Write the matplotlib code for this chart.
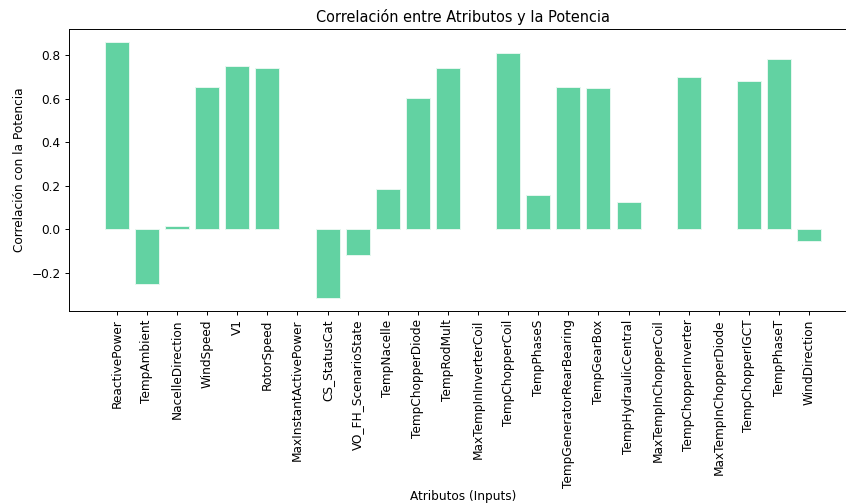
import matplotlib.pyplot as plt
import numpy as np

# atributos y su correlacion con la potencia (nan = columna constante, sin barra)
atributos = ['ReactivePower', 'TempAmbient', 'NacelleDirection', 'WindSpeed', 'V1',
             'RotorSpeed', 'MaxInstantActivePower', 'CS_StatusCat', 'VO_FH_ScenarioState',
             'TempNacelle', 'TempChopperDiode', 'TempRodMult', 'MaxTempInInverterCoil',
             'TempChopperCoil', 'TempPhaseS', 'TempGeneratorRearBearing', 'TempGearBox',
             'TempHydraulicCentral', 'MaxTempInChopperCoil', 'TempChopperInverter',
             'MaxTempInChopperDiode', 'TempChopperIGCT', 'TempPhaseT', 'WindDirection']
correlaciones = [0.86, -0.25, 0.017, 0.652, 0.748,
                 0.740, np.nan, -0.315, -0.115,
                 0.187, 0.603, 0.740, np.nan,
                 0.807, 0.157, 0.652, 0.648,
                 0.124, np.nan, 0.700,
                 np.nan, 0.680, 0.780, -0.054]

dpi = 87
fig = plt.figure(figsize=(846/dpi, 503/dpi), dpi=dpi)
ax = fig.add_axes([69/846, 1 - 311/503, (857 - 69)/846, (311 - 29)/503])

ax.bar(atributos, correlaciones, color='#62D2A2', edgecolor='#e6f7ef', linewidth=0.8)
ax.set_xlabel('Atributos (Inputs)', labelpad=1.5)
ax.set_ylabel('Correlación con la Potencia')
ax.set_title('Correlación entre Atributos y la Potencia')
ax.spines['right'].set_visible(False)
plt.xticks(rotation=90)

fig.savefig('out.png', dpi=dpi)
